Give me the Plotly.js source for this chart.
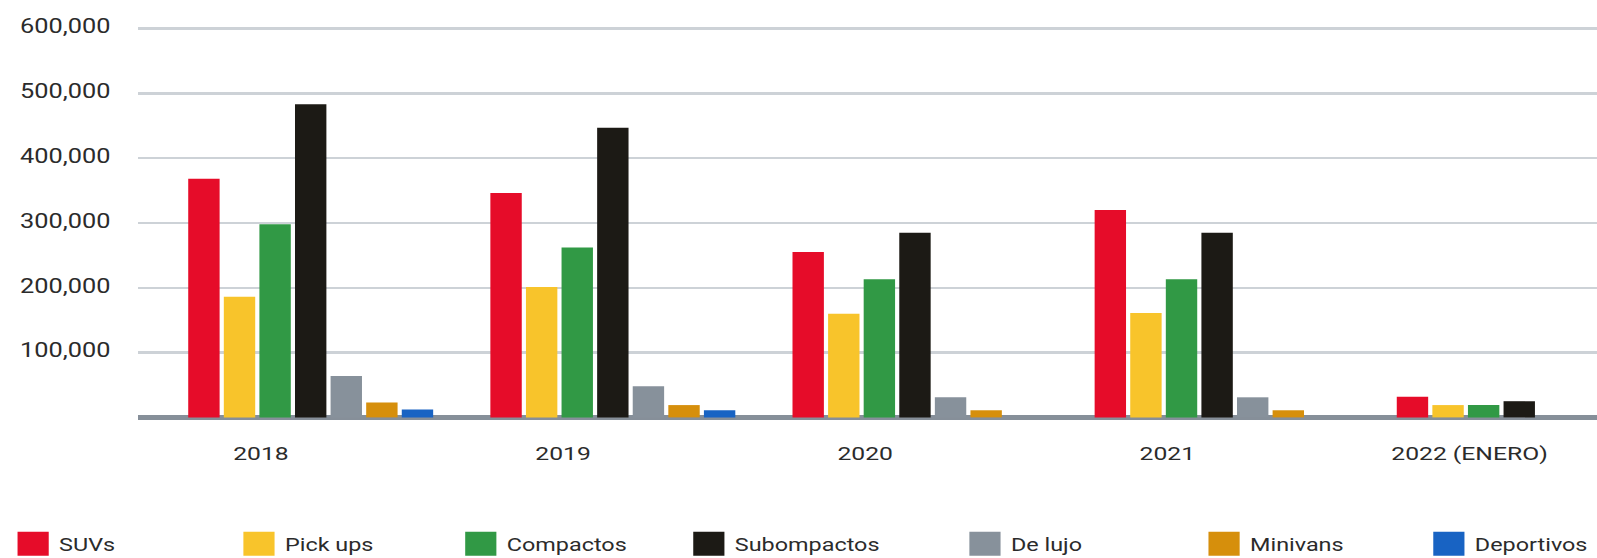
<!DOCTYPE html>
<html>
<head>
<meta charset="utf-8">
<script src="https://cdn.plot.ly/plotly-3.0.1.min.js"></script>
<style>
html,body{margin:0;padding:0;overflow:hidden;background:#fff;width:1597px;height:558px}
#wrap{width:1229px;height:558px;transform:scaleX(1.29943);transform-origin:0 0}
</style>
</head>
<body>
<div id="wrap"><div id="chart"></div></div>
<script>
// ---- data ----
const categories = ['2018', '2019', '2020', '2021', '2022 (ENERO)'];
const seriesNames = ['SUVs', 'Pick ups', 'Compactos', 'Subompactos', 'De lujo', 'Minivans', 'Deportivos'];
const suvs         = [368000, 346000, 255000, 320000, 32000];
const pickUps      = [186000, 201000, 160000, 161000, 19000];
const compactos    = [298000, 262000, 213000, 213000, 19000];
const subcompactos = [483000, 447000, 285000, 285000, 25000];
const deLujo       = [64000, 48000, 31000, 31000, 0];
const minivans     = [23000, 19000, 11000, 11000, 0];
const deportivos   = [12000, 11000, 0, 0, 0];
const yTickVals    = [100000, 200000, 300000, 400000, 500000, 600000];

// ---- styles ----
const seriesValues = [suvs, pickUps, compactos, subcompactos, deLujo, minivans, deportivos];
const seriesColors = ['#e60c29', '#f8c42b', '#319945', '#1c1a15', '#87919b', '#d68f0c', '#1863c3'];
const W = 1229, H = 558;
const M = {l: 106, r: 0, t: 16, b: 135};
const plotW = W - M.l - M.r, plotH = H - M.t - M.b;
const legendLeft = [5.5, 179.3, 350, 525.5, 738, 922, 1095];
const legendMid = 544;
const firstOffset = -0.2407, slotPitch = 0.1178, barWidth = 0.1039;
const textColor = '#2b2b2b';

const traces = seriesNames.map((name, i) => ({
  type: 'bar',
  name: name,
  x: categories,
  y: seriesValues[i],
  offset: firstOffset + i * slotPitch,
  width: barWidth,
  marker: {color: seriesColors[i], line: {width: 0}},
  legend: i === 0 ? 'legend' : 'legend' + (i + 1),
  hoverinfo: 'skip'
}));

const layout = {
  width: W, height: H,
  paper_bgcolor: '#ffffff', plot_bgcolor: '#ffffff',
  margin: {l: M.l, r: M.r, t: M.t, b: M.b, autoexpand: false},
  barmode: 'overlay',
  font: {family: 'Roboto, sans-serif', color: textColor},
  showlegend: true,
  xaxis: {
    type: 'category',
    range: [-0.4078, 4.422],
    showgrid: false, zeroline: false, showline: false,
    ticks: '',
    tickfont: {family: 'Roboto', size: 19, color: textColor},
    ticklabelstandoff: 17,
    fixedrange: true
  },
  yaxis: {
    range: [-8639, 619253],
    tickmode: 'array', tickvals: yTickVals,
    tickformat: ',d',
    showgrid: true, gridcolor: '#cdd2d7', gridwidth: 2.5,
    zeroline: true, zerolinecolor: '#868f99', zerolinewidth: 5,
    showline: false, ticks: '',
    tickfont: {family: 'Roboto', size: 19.5, color: textColor},
    ticklabelstandoff: 20,
    ticklabelshift: -2,
    fixedrange: true
  }
};

seriesNames.forEach((name, i) => {
  const key = i === 0 ? 'legend' : 'legend' + (i + 1);
  layout[key] = {
    orientation: 'h',
    xref: 'paper', yref: 'paper',
    x: (legendLeft[i] - M.l) / plotW,
    y: (H - M.b - legendMid) / plotH,
    xanchor: 'left', yanchor: 'middle',
    bgcolor: 'rgba(0,0,0,0)', borderwidth: 0,
    font: {family: 'Roboto', size: 18, color: textColor},
    itemclick: false, itemdoubleclick: false
  };
});

Plotly.newPlot('chart', traces, layout, {staticPlot: true, displayModeBar: false}).then(gd => {
  // enlarge the legend swatches to the reference's square size
  gd.querySelectorAll('.legendpoints path').forEach(p => p.setAttribute('d', 'M12,12H-12V-12H12Z'));
});
</script>
</body>
</html>
